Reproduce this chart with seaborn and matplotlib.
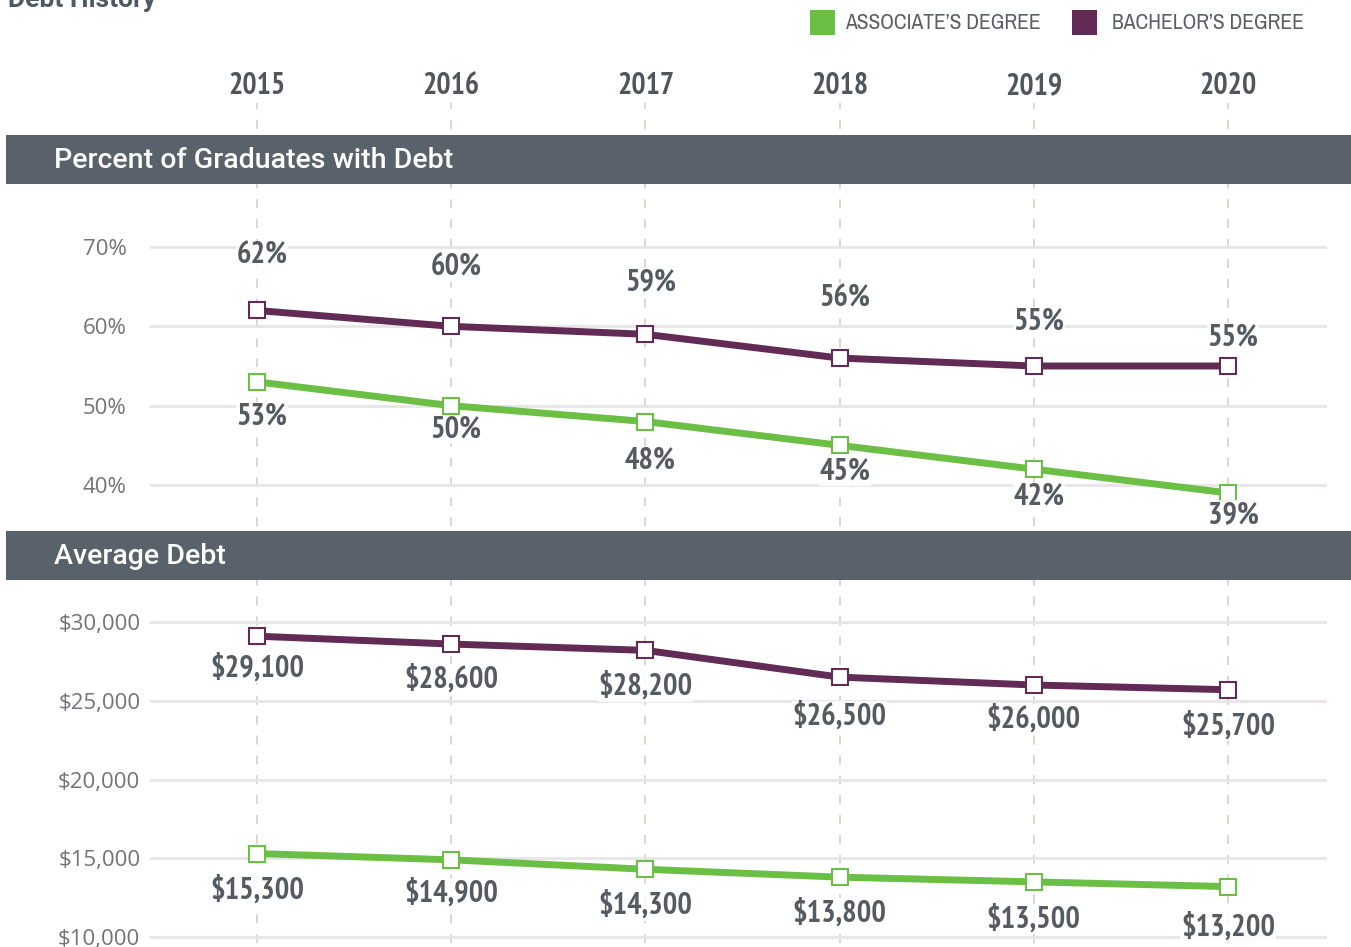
import pandas as pd
import seaborn as sns
import matplotlib.pyplot as plt
from matplotlib import font_manager
from matplotlib.font_manager import FontProperties
from matplotlib.patches import Rectangle

# %% data
years = [2015, 2016, 2017, 2018, 2019, 2020]
degrees = ["ASSOCIATE\u2019S DEGREE", "BACHELOR\u2019S DEGREE"]
pct_assoc = [53, 50, 48, 45, 42, 39]
pct_bach = [62, 60, 59, 56, 55, 55]
debt_assoc = [15300, 14900, 14300, 13800, 13500, 13200]
debt_bach = [29100, 28600, 28200, 26500, 26000, 25700]
pct_ticks = [40, 50, 60, 70]
debt_ticks = [10000, 15000, 20000, 25000, 30000]

# label nudges in pixels (layout only)
pct_bach_dy = [55, 59, 52, 60, 44, 28]
pct_assoc_dy = [-35, -24, -39, -26, -27, -22]
debt_bach_dy = [-32, -35, -36, -39, -34, -36]
debt_assoc_dy = [-36, -33, -36, -36, -37, -40]

# %% style
sns.set_style('white')
plt.rcParams['font.family'] = ['Roboto', 'DejaVu Sans']

WEIGHTS = {'thin': 100, 'light': 300, 'normal': 400, 'regular': 400, 'book': 400,
           'medium': 500, 'semibold': 600, 'demibold': 600, 'bold': 700, 'heavy': 800,
           'black': 900}
CONDENSED = ('condensed', 'semi-condensed')


def weight_num(w):
    return w if isinstance(w, (int, float)) else WEIGHTS.get(str(w), 400)


def find_narrow(want):
    best = None
    for f in font_manager.fontManager.ttflist:
        nm, fn = f.name.lower(), f.fname.lower()
        if f.style != 'normal' or 'italic' in fn:
            continue
        if 'narrow' in nm or 'narrow' in fn:
            pref = 0
        elif 'extra' in fn or 'ultra' in fn or 'semi' in fn:
            continue
        elif ('condensed' in nm or 'condensed' in fn or str(f.stretch) in CONDENSED):
            pref = 1 if 'roboto' in fn else (2 if 'noto' in fn else 3)
        else:
            continue
        key = (pref, abs(weight_num(f.weight) - want))
        if best is None or key < best[0]:
            best = (key, f.fname)
    return best[1] if best else None


def find_plain(family, want):
    best = None
    for f in font_manager.fontManager.ttflist:
        fn = f.fname.lower()
        if f.name != family or f.style != 'normal' or 'italic' in fn:
            continue
        if 'condensed' in fn or str(f.stretch) in CONDENSED:
            continue
        key = abs(weight_num(f.weight) - want)
        if best is None or key < best[0]:
            best = (key, f.fname)
    return best[1] if best else None


narrow_bold = find_narrow(700)
narrow_reg = find_narrow(450)
roboto_med = find_plain('Roboto', 500)


def fp_narrow(bold, size):
    path = narrow_bold if bold else narrow_reg
    if path:
        return FontProperties(fname=path, size=size)
    return FontProperties(family='Roboto', weight='bold' if bold else 'normal', size=size * 0.85)


def fp_title(size):
    if roboto_med:
        return FontProperties(fname=roboto_med, size=size)
    return FontProperties(family='Roboto', weight='bold', size=size)


green = '#6cbf45'
purple = '#612b55'
band_c = '#59626b'
label_c = '#565b62'
tick_c = '#737378'

W, H = 1351, 947
PX_YEAR = 194.2


def fx(px):
    return px / W


def fy(py):
    return 1 - py / H


fig = plt.figure(figsize=(W / 100, H / 100), dpi=100)

# background axes: x in years, y in pixels
bg = fig.add_axes([0, 0, 1, 1])
x0 = 2015 - 257 / PX_YEAR
bg.set_xlim(x0, x0 + W / PX_YEAR)
bg.set_ylim(H, 0)
bg.axis('off')
bg.vlines(years, 100, H, colors='#d9d3cf', linestyles=(0, (5, 6)), lw=1.3, zorder=1)
bg.axhspan(135, 184, xmin=6 / W, xmax=1, color=band_c, zorder=2, lw=0)
bg.axhspan(531, 580, xmin=6 / W, xmax=1, color=band_c, zorder=2, lw=0)
for y in years:
    bg.text(y, 86, str(y), ha='center', va='center', fontproperties=fp_narrow(True, 21.5),
            color='#51565d', zorder=3, bbox=dict(fc='white', ec='none', pad=2))

fig.text(fx(54), fy(160), 'Percent of Graduates with Debt', color='white',
         fontproperties=fp_title(20.5), va='center', ha='left')
fig.text(fx(54), fy(557), 'Average Debt', color='white',
         fontproperties=fp_title(20.5), va='center', ha='left')
fig.text(fx(8), fy(7), 'Debt History', color='#4d5a66', fontsize=19, fontweight='bold',
         va='baseline', ha='left')

# legend
for x_sq, x_txt, col, name in [(810, 845, green, degrees[0]), (1072, 1112, purple, degrees[1])]:
    fig.add_artist(Rectangle((fx(x_sq), fy(35)), 25 / W, 25 / H, transform=fig.transFigure,
                             color=col, lw=0))
    fig.text(fx(x_txt), fy(23), name, fontproperties=fp_narrow(False, 15.5),
             color='#5b6068', va='center', ha='left')

# %% data panels
pct_df = pd.DataFrame({'year': years * 2,
                       'degree': [degrees[0]] * 6 + [degrees[1]] * 6,
                       'value': pct_assoc + pct_bach})
debt_df = pd.DataFrame({'year': years * 2,
                        'degree': [degrees[0]] * 6 + [degrees[1]] * 6,
                        'value': debt_assoc + debt_bach})

xlim = (2015 - 107 / PX_YEAR, 2015 + 1070 / PX_YEAR)
ax1 = fig.add_axes([fx(150), fy(531), (1327 - 150) / W, (531 - 184) / H])
ax2 = fig.add_axes([fx(150), fy(H), (1327 - 150) / W, (H - 580) / H])
ax1.set_ylim(40 - (531 - 485) / 7.933, 70 + (247 - 184) / 7.933)
ax2.set_ylim(10000 - 10 / 78.75 * 5000, 30000 + (622 - 580) / 78.75 * 5000)

for ax, df, ticks in [(ax1, pct_df, pct_ticks), (ax2, debt_df, debt_ticks)]:
    sns.lineplot(data=df, x='year', y='value', hue='degree', hue_order=degrees,
                 palette=[green, purple], marker='s', markersize=12, lw=5,
                 legend=False, ax=ax, zorder=5)
    for line in ax.lines:
        line.set_markerfacecolor('white')
        line.set_markeredgecolor(line.get_color())
        line.set_markeredgewidth(1.5)
    ax.set_xlim(*xlim)
    ax.set_xticks([])
    ax.set_yticks(ticks)
    ax.set_xlabel('')
    ax.set_ylabel('')
    ax.set_facecolor('none')
    ax.yaxis.grid(True, color='#e7e5e5', lw=2)
    ax.set_axisbelow(True)
    sns.despine(ax=ax, left=True, bottom=True)
    ax.tick_params(axis='y', length=0, labelsize=16, labelcolor=tick_c)

ax1.set_yticklabels([f'{t}%' for t in pct_ticks])
ax1.tick_params(axis='y', pad=17)
ax2.set_yticklabels([f'${t:,}' for t in debt_ticks])
ax2.tick_params(axis='y', pad=7)
for ax in (ax1, ax2):
    for lab in ax.get_yticklabels():
        lab.set_family(['Open Sans', 'DejaVu Sans'])
        lab.set_fontsize(16)


def put_labels(ax, vals, dys, fmt, dx):
    for yr, v, dy in zip(years, vals, dys):
        ax.annotate(fmt(v), (yr, v), xytext=(dx, dy), textcoords='offset pixels',
                    ha='center', va='center', fontproperties=fp_narrow(True, 22),
                    color=label_c, zorder=6,
                    bbox=dict(fc='white', ec='none', pad=0.5, alpha=0.85))


put_labels(ax1, pct_bach, pct_bach_dy, lambda v: f'{v}%', 5)
put_labels(ax1, pct_assoc, pct_assoc_dy, lambda v: f'{v}%', 5)
put_labels(ax2, debt_bach, debt_bach_dy, lambda v: f'${v:,}', 0)
put_labels(ax2, debt_assoc, debt_assoc_dy, lambda v: f'${v:,}', 0)

fig.savefig('out.png', dpi=100)
